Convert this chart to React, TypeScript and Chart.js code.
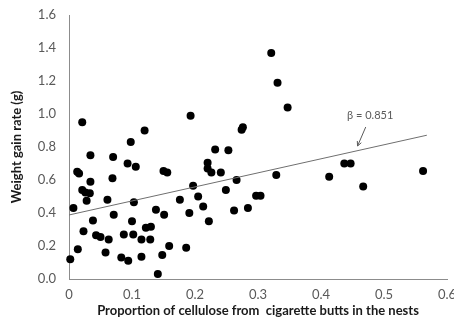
import React, { useEffect, useRef } from "react";
import { Chart, registerables } from "chart.js";

Chart.register(...registerables);

// Proportion of cellulose from cigarette butts (x) and weight gain rate in g (y), one pair per nest
const cellulose = [
  0.002, 0.007, 0.013, 0.016, 0.014, 0.021, 0.021, 0.026, 0.033, 0.028,
  0.023, 0.034, 0.034, 0.038, 0.043, 0.05, 0.058, 0.061, 0.063, 0.069,
  0.07, 0.071, 0.083, 0.087, 0.093, 0.094, 0.098, 0.102, 0.103, 0.1,
  0.106, 0.115, 0.115, 0.12, 0.122, 0.13, 0.129, 0.138, 0.141, 0.148,
  0.151, 0.15, 0.156, 0.159, 0.176, 0.186, 0.191, 0.193, 0.197, 0.205,
  0.213, 0.22, 0.22, 0.222, 0.226, 0.232, 0.241, 0.249, 0.253, 0.262,
  0.266, 0.274, 0.276, 0.284, 0.297, 0.304, 0.321, 0.329, 0.331, 0.347,
  0.413, 0.437, 0.447, 0.467, 0.562,
];
const weightGain = [
  0.12, 0.43, 0.65, 0.64, 0.18, 0.95, 0.54, 0.525, 0.52, 0.475,
  0.29, 0.75, 0.59, 0.355, 0.265, 0.255, 0.16, 0.48, 0.24, 0.61,
  0.74, 0.39, 0.13, 0.27, 0.7, 0.11, 0.83, 0.27, 0.465, 0.35,
  0.68, 0.24, 0.135, 0.9, 0.31, 0.317, 0.24, 0.42, 0.03, 0.145,
  0.39, 0.655, 0.645, 0.2, 0.48, 0.19, 0.4, 0.99, 0.565, 0.5,
  0.44, 0.705, 0.67, 0.35, 0.645, 0.785, 0.645, 0.54, 0.78, 0.415,
  0.6, 0.905, 0.92, 0.43, 0.505, 0.505, 1.37, 0.63, 1.19, 1.04,
  0.62, 0.7, 0.7, 0.56, 0.655,
];

// Fitted regression line
const fitIntercept = 0.388;
const fitSlope = 0.851;
const fitXRange = [0, 0.568];
const fitLabel = "β = 0.851";

// Label anchor and arrow (data units)
const labelAt = { x: 0.478, y: 0.994 };
const arrowFrom = { x: 0.471, y: 0.921 };
const arrowTo = { x: 0.458, y: 0.806 };

const xTickValues = [0, 0.1, 0.2, 0.3, 0.4, 0.5, 0.6];
const yTickValues = [0, 0.2, 0.4, 0.6, 0.8, 1.0, 1.2, 1.4, 1.6];

const xTitle = "Proportion of cellulose from  cigarette butts in the nests";
const yTitle = "Weight gain rate (g)";

const FONT = "Lato, 'Open Sans', sans-serif";

const fitAnnotation = {
  id: "fitAnnotation",
  afterDatasetsDraw(chart: any) {
    const { ctx, scales } = chart;
    const xs = scales.x;
    const ys = scales.y;
    ctx.save();
    ctx.fillStyle = "#595959";
    ctx.font = `11px ${FONT}`;
    ctx.textAlign = "center";
    ctx.textBaseline = "middle";
    ctx.fillText(fitLabel, xs.getPixelForValue(labelAt.x), ys.getPixelForValue(labelAt.y));

    const x1 = xs.getPixelForValue(arrowFrom.x);
    const y1 = ys.getPixelForValue(arrowFrom.y);
    const x2 = xs.getPixelForValue(arrowTo.x);
    const y2 = ys.getPixelForValue(arrowTo.y);
    ctx.strokeStyle = "#595959";
    ctx.lineWidth = 1;
    ctx.beginPath();
    ctx.moveTo(x1, y1);
    ctx.lineTo(x2, y2);
    const ang = Math.atan2(y2 - y1, x2 - x1);
    const head = 5;
    ctx.moveTo(x2, y2);
    ctx.lineTo(x2 - head * Math.cos(ang - 0.45), y2 - head * Math.sin(ang - 0.45));
    ctx.moveTo(x2, y2);
    ctx.lineTo(x2 - head * Math.cos(ang + 0.45), y2 - head * Math.sin(ang + 0.45));
    ctx.stroke();
    ctx.restore();
  },
};

export default function App() {
  const canvasRef = useRef<HTMLCanvasElement | null>(null);

  useEffect(() => {
    if (!canvasRef.current) return;
    const points = cellulose.map((x, i) => ({ x, y: weightGain[i] }));
    const fitLine = fitXRange.map((x) => ({ x, y: fitIntercept + fitSlope * x }));

    const chart = new Chart(canvasRef.current, {
      type: "scatter",
      data: {
        datasets: [
          {
            label: "Fit",
            data: fitLine,
            showLine: true,
            borderColor: "#6f6f6f",
            borderWidth: 1,
            pointRadius: 0,
            clip: false as any,
          },
          {
            label: "Nests",
            data: points,
            backgroundColor: "#000000",
            borderColor: "#000000",
            pointRadius: 4,
            borderWidth: 0,
            clip: false as any,
          },
        ],
      },
      options: {
        animation: false,
        responsive: false,
        devicePixelRatio: 1,
        layout: { padding: { top: 15, right: 7, left: 0, bottom: 0 } },
        plugins: {
          legend: { display: false },
          tooltip: { enabled: false },
        },
        scales: {
          x: {
            type: "linear",
            min: 0,
            max: 0.6,
            grid: { display: false, drawTicks: false },
            border: { display: true, color: "#8c8c8c", width: 1 },
            afterBuildTicks: (scale: any) => {
              scale.ticks = xTickValues.map((value) => ({ value }));
            },
            afterFit: (scale: any) => {
              scale.height = 43;
              scale.paddingLeft = 0;
              scale.paddingRight = 0;
            },
            ticks: {
              padding: 8,
              color: "#595959",
              font: { family: FONT, size: 13 },
              maxRotation: 0,
              callback: (v: any) => (Number(v) === 0 ? "0" : Number(v).toFixed(1)),
            },
            title: {
              display: true,
              text: xTitle,
              color: "#1a1a1a",
              font: { family: FONT, size: 13, weight: "bold" },
              padding: { top: 0, bottom: 3 },
            },
          },
          y: {
            type: "linear",
            min: 0,
            max: 1.6,
            grid: { display: false, drawTicks: false },
            border: { display: true, color: "#8c8c8c", width: 1 },
            afterBuildTicks: (scale: any) => {
              scale.ticks = yTickValues.map((value) => ({ value }));
            },
            afterFit: (scale: any) => {
              scale.width = 69;
              scale.paddingTop = 0;
              scale.paddingBottom = 0;
            },
            ticks: {
              padding: 13,
              color: "#595959",
              font: { family: FONT, size: 13 },
              callback: (v: any) => Number(v).toFixed(1),
            },
            title: {
              display: true,
              text: yTitle,
              color: "#1a1a1a",
              font: { family: FONT, size: 13, weight: "bold" },
              padding: { top: 9, bottom: 0 },
            },
          },
        },
      },
      plugins: [fitAnnotation],
    });

    return () => chart.destroy();
  }, []);

  return (
    <div style={{ position: "fixed", left: 0, top: 0, width: 454, height: 322, background: "#ffffff" }}>
      <canvas ref={canvasRef} width={454} height={322} />
    </div>
  );
}
